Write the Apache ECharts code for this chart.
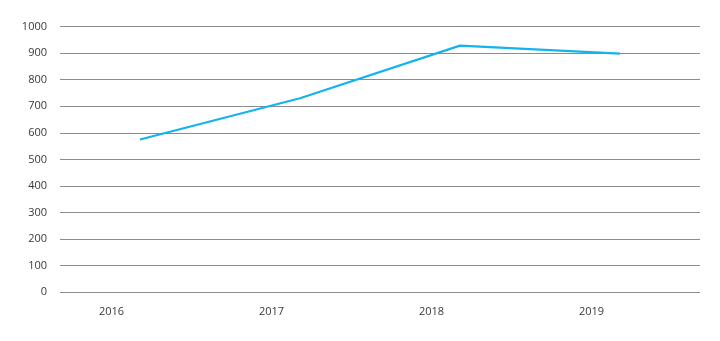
<!DOCTYPE html>
<html>
<head>
<meta charset="utf-8">
<script src="https://cdn.jsdelivr.net/npm/echarts@6/dist/echarts.min.js"></script>
<style>
  html, body { margin: 0; padding: 0; background: #fff; }
  #chart { width: 720px; height: 341px; }
</style>
</head>
<body>
<div id="chart"></div>
<script>
// Yearly values
const years = ['2016', '2017', '2018', '2019'];
const values = [575, 730, 928, 898];
const yTicks = { min: 0, max: 1000, step: 100 };

const chart = echarts.init(document.getElementById('chart'), null, { renderer: 'canvas' });

chart.setOption({
  animation: false,
  backgroundColor: '#ffffff',
  grid: { left: 60, right: 20, top: 26.5, bottom: 48.7, containLabel: false },
  xAxis: {
    type: 'category',
    data: years,
    boundaryGap: true,
    axisLine: { show: false },
    axisTick: { show: false },
    splitLine: { show: false },
    axisLabel: {
      margin: 14,
      fontFamily: 'Open Sans',
      fontSize: 11,
      color: '#3a3a3a',
      // year labels sit left of the band centre
      padding: [0, 57, 0, 0]
    }
  },
  yAxis: {
    type: 'value',
    min: yTicks.min,
    max: yTicks.max,
    interval: yTicks.step,
    axisLine: { show: false },
    axisTick: { show: false },
    axisLabel: {
      margin: 13,
      fontFamily: 'Open Sans',
      fontSize: 11,
      color: '#3a3a3a',
      formatter: (v) => String(v)
    },
    splitLine: { lineStyle: { color: '#8c8c8c', width: 1 } }
  },
  series: [{
    type: 'line',
    data: values,
    symbol: 'none',
    lineStyle: { color: '#12b3ef', width: 2.2 }
  }]
});
</script>
</body>
</html>
